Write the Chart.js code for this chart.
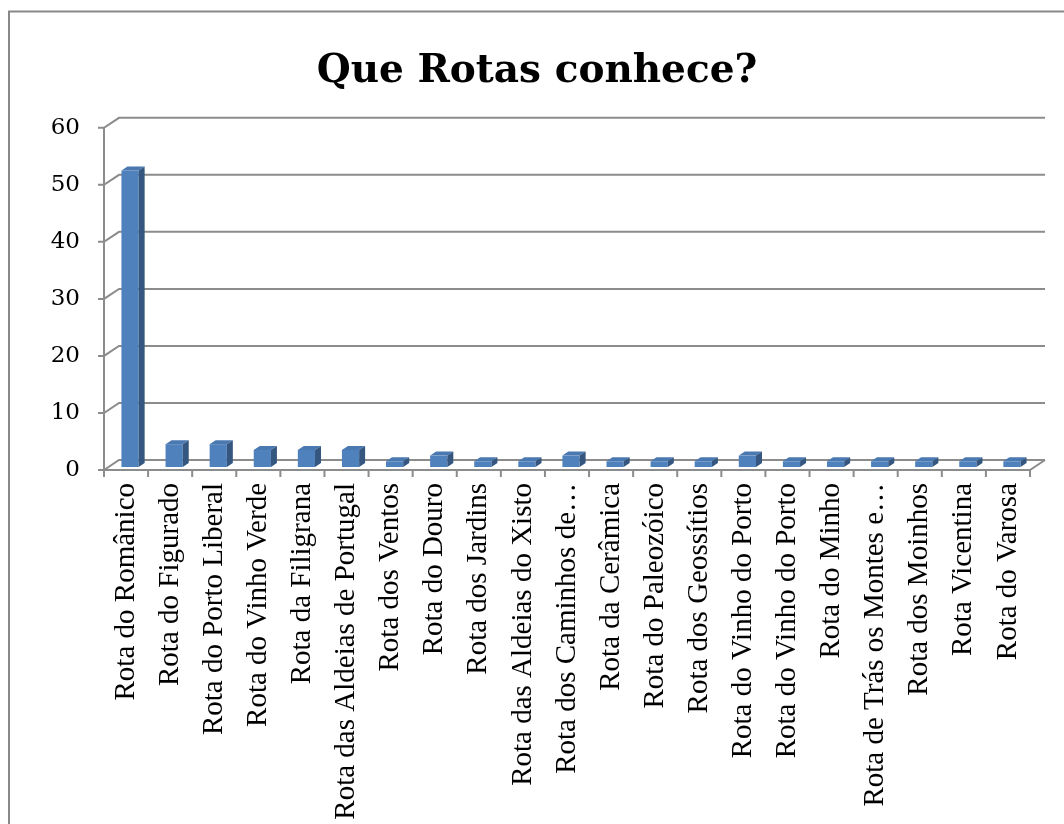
<!DOCTYPE html>
<html>
<head>
<meta charset="utf-8">
<title>Que Rotas conhece?</title>
<script src="https://cdn.jsdelivr.net/npm/chart.js@4/dist/chart.umd.min.js"></script>
<style>
  html, body { margin: 0; padding: 0; background: #ffffff; }
  #wrap { position: relative; width: 1064px; height: 824px; }
</style>
</head>
<body>
<div id="wrap"><canvas id="chart"></canvas></div>
<script>
// data
const chartTitle = "Que Rotas conhece?";
const routes = [
  "Rota do Românico",
  "Rota do Figurado",
  "Rota do Porto Liberal",
  "Rota do Vinho Verde",
  "Rota da Filigrana",
  "Rota das Aldeias de Portugal",
  "Rota dos Ventos",
  "Rota do Douro",
  "Rota dos Jardins",
  "Rota das Aldeias do Xisto",
  "Rota dos Caminhos de…",
  "Rota da Cerâmica",
  "Rota do Paleozóico",
  "Rota dos Geossítios",
  "Rota do Vinho do Porto",
  "Rota do Vinho do Porto",
  "Rota do Minho",
  "Rota de Trás os Montes e…",
  "Rota dos Moinhos",
  "Rota Vicentina",
  "Rota do Varosa"
];
const answers = [52, 4, 4, 3, 3, 3, 1, 2, 1, 1, 2, 1, 1, 1, 2, 1, 1, 1, 1, 1, 1];
const yTicks = [0, 10, 20, 30, 40, 50, 60];

// 3D look (Excel style): back wall offset and bar depth
const WALL = { dx: 15, dy: -10 };
const BAR_SHIFT = { dx: 4, dy: -3 };
const BAR_DEPTH = { dx: 6, dy: -4 };
const LINE = "#8c8c8c";

const excel3d = {
  id: "excel3d",
  beforeDraw(chart) {
    // outer frame (only left and top visible)
    const ctx = chart.ctx;
    ctx.save();
    ctx.strokeStyle = "#888888";
    ctx.lineWidth = 2;
    ctx.beginPath();
    ctx.moveTo(9, 824);
    ctx.lineTo(9, 11.5);
    ctx.lineTo(1064, 11.5);
    ctx.stroke();
    ctx.restore();
  },
  beforeDatasetsDraw(chart) {
    const ctx = chart.ctx;
    const area = chart.chartArea;
    const ys = chart.scales.y;
    ctx.save();
    ctx.strokeStyle = LINE;
    ctx.lineWidth = 2;
    ctx.beginPath();
    yTicks.forEach((v) => {
      const y = ys.getPixelForValue(v);
      ctx.moveTo(area.left - 6, y);
      ctx.lineTo(area.left, y);
      ctx.lineTo(area.left + WALL.dx, y + WALL.dy);
      ctx.lineTo(area.right + WALL.dx, y + WALL.dy);
    });
    // front vertical axis
    ctx.moveTo(area.left, ys.getPixelForValue(60));
    ctx.lineTo(area.left, area.bottom);
    // floor front edge + right diagonal
    ctx.lineTo(area.right, area.bottom);
    ctx.lineTo(area.right + WALL.dx, area.bottom + WALL.dy);
    // category ticks
    const step = (area.right - area.left) / routes.length;
    for (let i = 0; i <= routes.length; i++) {
      const x = area.left + i * step;
      ctx.moveTo(x, area.bottom);
      ctx.lineTo(x, area.bottom + 7);
    }
    ctx.stroke();
    ctx.restore();

    // bars sit a little inside the depth
    ctx.save();
    ctx.translate(BAR_SHIFT.dx, BAR_SHIFT.dy);
  },
  afterDatasetsDraw(chart) {
    const ctx = chart.ctx;
    const meta = chart.getDatasetMeta(0);
    meta.data.forEach((bar) => {
      const p = bar.getProps(["x", "y", "base", "width"], true);
      const l = p.x - p.width / 2;
      const r = p.x + p.width / 2;
      // top face
      ctx.fillStyle = "#4a78b0";
      ctx.beginPath();
      ctx.moveTo(l, p.y);
      ctx.lineTo(r, p.y);
      ctx.lineTo(r + BAR_DEPTH.dx, p.y + BAR_DEPTH.dy);
      ctx.lineTo(l + BAR_DEPTH.dx, p.y + BAR_DEPTH.dy);
      ctx.closePath();
      ctx.fill();
      // side face
      ctx.fillStyle = "#34567f";
      ctx.beginPath();
      ctx.moveTo(r, p.y);
      ctx.lineTo(r + BAR_DEPTH.dx, p.y + BAR_DEPTH.dy);
      ctx.lineTo(r + BAR_DEPTH.dx, p.base + BAR_DEPTH.dy);
      ctx.lineTo(r, p.base);
      ctx.closePath();
      ctx.fill();
    });
    ctx.restore();
  }
};

const ctx = document.getElementById("chart").getContext("2d");
new Chart(ctx, {
  type: "bar",
  data: {
    labels: routes,
    datasets: [{
      data: answers,
      backgroundColor: "#4f81bd",
      borderWidth: 0,
      barPercentage: 0.39,
      categoryPercentage: 1,
      clip: false
    }]
  },
  options: {
    responsive: true,
    maintainAspectRatio: false,
    animation: false,
    layout: { padding: { top: 0, right: 0, bottom: 0, left: 10 } },
    plugins: {
      legend: { display: false },
      tooltip: { enabled: false },
      title: {
        display: true,
        text: chartTitle,
        color: "#000000",
        font: { family: "'DejaVu Serif', serif", size: 39, weight: "bold" },
        padding: { top: 48, bottom: 33 }
      }
    },
    scales: {
      x: {
        grid: { display: false, drawTicks: false },
        border: { display: false },
        ticks: {
          autoSkip: false,
          minRotation: 90,
          maxRotation: 90,
          padding: 13,
          color: "#000000",
          font: { family: "'Liberation Serif', serif", size: 29 }
        },
        afterFit(scale) { scale.height = 354; }
      },
      y: {
        min: 0,
        max: 60,
        grid: { display: false, drawTicks: false },
        border: { display: false },
        ticks: {
          stepSize: 10,
          padding: 24,
          color: "#000000",
          font: { family: "'DejaVu Serif', serif", size: 23 }
        },
        afterFit(scale) { scale.width = 94; }
      },
      // empty right-hand box that keeps the room right of the floor
      yRight: {
        position: "right",
        min: 0,
        max: 60,
        grid: { display: false, drawTicks: false },
        border: { display: false },
        ticks: { display: false },
        afterFit(scale) { scale.width = 34; }
      }
    }
  },
  plugins: [excel3d]
});
</script>
</body>
</html>
